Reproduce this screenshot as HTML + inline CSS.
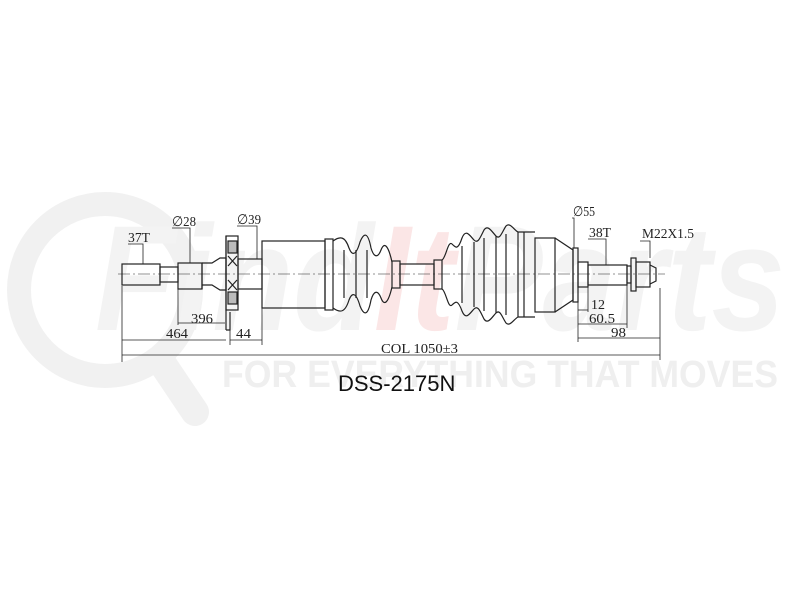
<!DOCTYPE html>
<html><head><meta charset="utf-8"><style>
html,body{margin:0;padding:0;background:#fff;}
svg{display:block}
</style></head><body>
<svg width="800" height="600" viewBox="0 0 800 600" xmlns="http://www.w3.org/2000/svg">
<g>
<circle cx="105" cy="290" r="86" fill="none" stroke="#f1f1f1" stroke-width="24"/>
<line x1="160" y1="360" x2="195" y2="412" stroke="#f1f1f1" stroke-width="28" stroke-linecap="round"/>
<text x="95" y="330" font-family="Liberation Sans, sans-serif" font-size="150" font-weight="bold" font-style="italic" fill="#f3f3f3" textLength="690" lengthAdjust="spacingAndGlyphs">Find<tspan fill="#fbe6e6">It</tspan>Parts</text>
<text x="222" y="387" font-family="Liberation Sans, sans-serif" font-size="38" font-weight="bold" fill="#efefef" textLength="556" lengthAdjust="spacingAndGlyphs">FOR EVERYTHING THAT MOVES</text>
</g>
<g fill="none" stroke="#222" stroke-width="1.2">
<line x1="118" y1="274" x2="665" y2="274" stroke-width="0.6" stroke-dasharray="12,3,2,3"/>
<rect x="122" y="264" width="38" height="21"/>
<rect x="160" y="267" width="18" height="15"/>
<rect x="178" y="263" width="24" height="26"/>
<path d="M202 263 L212 263 L220 258 L226 258 L226 290 L220 290 L212 285 L202 285"/>
<line x1="202" y1="263" x2="202" y2="289"/>
<rect x="226" y="236" width="12" height="74"/>
<line x1="226" y1="236" x2="226" y2="330"/>
<path d="M226 330 L230 330 L230 312"/>
<rect x="228" y="241" width="9" height="12" fill="#bbb"/>
<rect x="228" y="292" width="9" height="12" fill="#bbb"/>
<path d="M228 256 L237 266 M237 256 L228 266 M228 280 L237 290 M237 280 L228 290"/>
<rect x="238" y="259" width="24" height="30"/>
<rect x="262" y="241" width="63" height="67"/>
<rect x="325" y="239" width="8" height="71"/>
<path d="M333 241 C340 236 345 236 349 248 C352 256 356 256 360 242 C364 232 368 232 371 248 C374 258 378 258 381 250 C384 242 388 244 392 262 M333 308 C340 313 345 313 349 300 C352 292 356 292 360 306 C364 316 368 316 371 300 C374 290 378 290 381 298 C384 306 388 304 392 287"/>
<line x1="344" y1="250" x2="344" y2="298"/><line x1="356" y1="250" x2="356" y2="298"/><line x1="367" y1="250" x2="367" y2="298"/>
<rect x="392" y="261" width="8" height="27"/>
<rect x="400" y="264" width="34" height="21"/>
<rect x="434" y="260" width="8" height="29"/>
<path d="M442 260 C446 258 448 240 452 244 C456 248 458 250 462 238 C466 228 470 236 474 240 C478 244 480 238 484 230 C488 224 492 232 496 236 C500 240 502 232 506 226 C510 222 514 230 518 232 L535 232 M442 289 C446 291 448 309 452 305 C456 301 458 300 462 311 C466 321 470 313 474 309 C478 305 480 311 484 319 C488 325 492 317 496 313 C500 309 502 317 506 323 C510 327 514 319 518 317 L535 317"/>
<line x1="518" y1="232" x2="518" y2="317"/><line x1="524" y1="232" x2="524" y2="317"/>
<line x1="462" y1="246" x2="462" y2="303"/><line x1="474" y1="242" x2="474" y2="307"/><line x1="484" y1="238" x2="484" y2="311"/><line x1="496" y1="236" x2="496" y2="313"/><line x1="506" y1="234" x2="506" y2="315"/>
<rect x="535" y="238" width="20" height="74"/>
<path d="M555 238 L573 250 L573 300 L555 312"/>
<rect x="573" y="248" width="5" height="54"/>
<rect x="578" y="262" width="10" height="25"/>
<rect x="588" y="265" width="39" height="20"/>
<rect x="627" y="266" width="4" height="17"/>
<rect x="631" y="258" width="5" height="33"/>
<rect x="636" y="262" width="14" height="25"/>
<path d="M650 265 L656 268 L656 281 L650 284"/>
<g stroke-width="0.8">
<line x1="122" y1="286" x2="122" y2="362"/>
<line x1="178" y1="289" x2="178" y2="325"/>
<line x1="230" y1="330" x2="230" y2="345"/>
<line x1="262" y1="308" x2="262" y2="345"/>
<line x1="178" y1="323" x2="225" y2="323"/>
<line x1="122" y1="340" x2="226" y2="340"/>
<line x1="230" y1="340" x2="262" y2="340"/>
<line x1="122" y1="355" x2="660" y2="355"/>
<line x1="660" y1="288" x2="660" y2="360"/>
<line x1="578" y1="302" x2="578" y2="342"/>
<line x1="627" y1="285" x2="627" y2="328"/>
<line x1="588" y1="287" x2="588" y2="312"/>
<line x1="578" y1="310" x2="588" y2="310"/>
<line x1="578" y1="324" x2="627" y2="324"/>
<line x1="578" y1="338" x2="660" y2="338"/>
<path d="M128 244 L143 244 L143 264"/>
<path d="M172 228 L190 228 L190 263"/>
<path d="M237 226 L257 226 L257 259"/>
<path d="M572 218 L574 218 L574 248"/>
<path d="M588 239 L606 239 L606 265"/>
<path d="M640 241 L650 241 L650 258"/>
</g>
</g>
<g font-family="Liberation Serif, serif" font-size="14" fill="#222">
<text x="128" y="242" textLength="22" lengthAdjust="spacingAndGlyphs">37T</text>
<text x="172" y="226" textLength="24" lengthAdjust="spacingAndGlyphs">∅28</text>
<text x="237" y="224" textLength="24" lengthAdjust="spacingAndGlyphs">∅39</text>
<text x="191" y="323" textLength="22" lengthAdjust="spacingAndGlyphs">396</text>
<text x="166" y="338" textLength="22" lengthAdjust="spacingAndGlyphs">464</text>
<text x="236" y="338" textLength="15" lengthAdjust="spacingAndGlyphs">44</text>
<text x="381" y="353" textLength="77" lengthAdjust="spacingAndGlyphs">COL 1050±3</text>
<text x="573" y="216" textLength="22" lengthAdjust="spacingAndGlyphs">∅55</text>
<text x="589" y="237" textLength="22" lengthAdjust="spacingAndGlyphs">38T</text>
<text x="642" y="238" textLength="52" lengthAdjust="spacingAndGlyphs">M22X1.5</text>
<text x="591" y="309" textLength="14" lengthAdjust="spacingAndGlyphs">12</text>
<text x="589" y="323" textLength="26" lengthAdjust="spacingAndGlyphs">60.5</text>
<text x="611" y="337" textLength="15" lengthAdjust="spacingAndGlyphs">98</text>
</g>
<text x="338" y="391" font-family="Liberation Sans, sans-serif" font-size="22" fill="#111">DSS-2175N</text>
</svg>
</body></html>
